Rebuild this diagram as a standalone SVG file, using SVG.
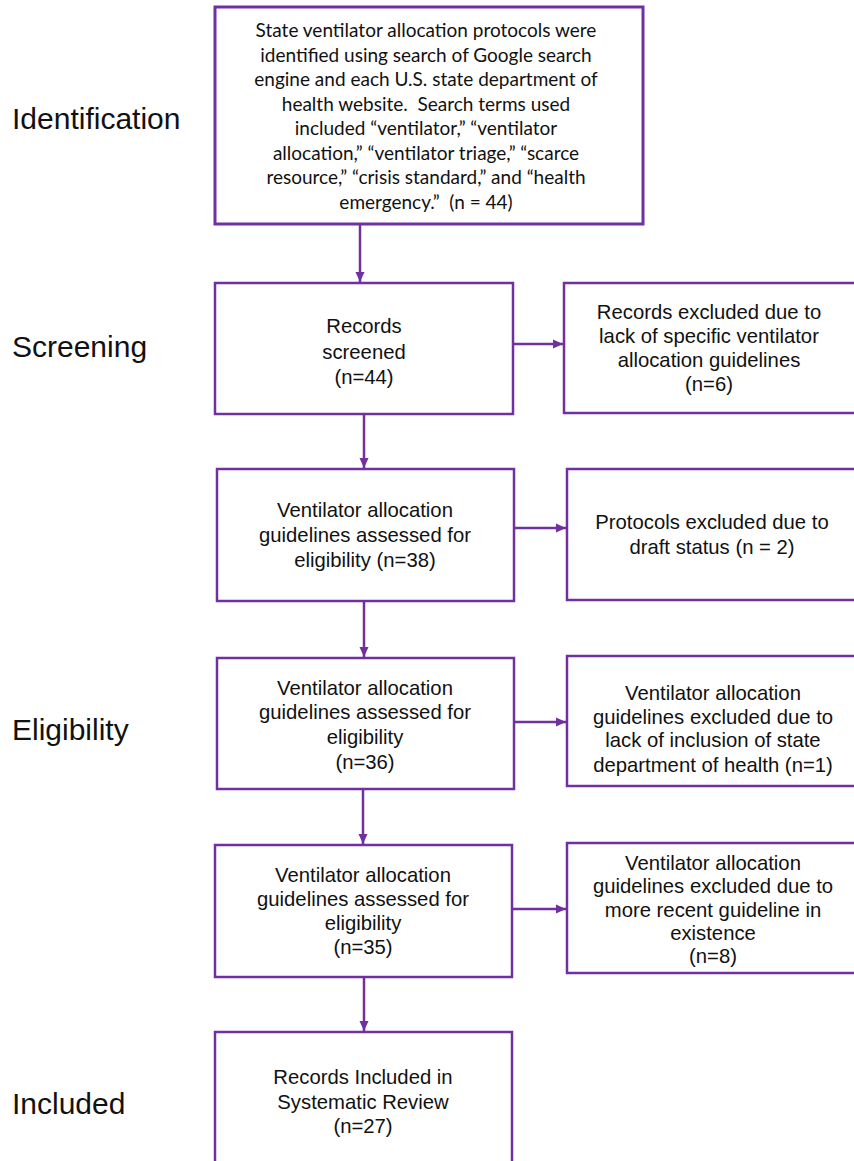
<svg xmlns="http://www.w3.org/2000/svg" width="854" height="1161" viewBox="0 0 854 1161">
<style>
.box{fill:#fff;stroke:#7030A0;stroke-width:2.5}
.top{fill:#fff;stroke:#7030A0;stroke-width:3}
.t{font-family:"Liberation Sans",Arial,sans-serif;font-size:20.3px;fill:#111;text-anchor:middle}
.c{font-family:Lato,"Liberation Sans",sans-serif;font-size:19px;fill:#111;text-anchor:middle;white-space:pre}
.lab{font-family:"Liberation Sans",Arial,sans-serif;font-size:30px;fill:#111}
.con{stroke:#7030A0;stroke-width:2.5;fill:none;marker-end:url(#ah)}
</style>
<defs>
<marker id="ah" markerUnits="userSpaceOnUse" markerWidth="12" markerHeight="12" viewBox="0 0 12 12" refX="10" refY="6" orient="auto">
<path d="M0,1.5 L10,6 L0,10.5 Z" fill="#7030A0"/>
</marker>
</defs>
<rect width="854" height="1161" fill="#fff"/>
<g id="labels">
<text class="lab" x="12" y="129">Identification</text>
<text class="lab" x="12" y="357">Screening</text>
<text class="lab" x="12" y="740">Eligibility</text>
<text class="lab" x="12" y="1114">Included</text>
</g>
<g id="connectors">
<line class="con" x1="360" y1="225" x2="360" y2="282"/>
<line class="con" x1="364" y1="415" x2="364" y2="468"/>
<line class="con" x1="364" y1="602" x2="364" y2="657"/>
<line class="con" x1="363" y1="790" x2="363" y2="844"/>
<line class="con" x1="364" y1="978" x2="364" y2="1031"/>
<line class="con" x1="513" y1="344" x2="563" y2="344"/>
<line class="con" x1="514" y1="528" x2="566" y2="528"/>
<line class="con" x1="514" y1="722" x2="566" y2="722"/>
<line class="con" x1="512" y1="909" x2="566" y2="909"/>
</g>
<g id="n_identification">
<rect class="top" x="215" y="7" width="428" height="217"/>
<text class="c" x="426" y="37">State ventilator allocation protocols were</text>
<text class="c" x="426" y="61.5">identified using search of Google search</text>
<text class="c" x="426" y="86">engine and each U.S. state department of</text>
<text class="c" x="426" y="110.5" xml:space="preserve">health website.  Search terms used</text>
<text class="c" x="426" y="135">included “ventilator,” “ventilator</text>
<text class="c" x="426" y="159.5">allocation,” “ventilator triage,” “scarce</text>
<text class="c" x="426" y="184">resource,” “crisis standard,” and “health</text>
<text class="c" x="426" y="208.5" xml:space="preserve">emergency.”  (n = 44)</text>
</g>
<g id="n_screened">
<rect class="box" x="215" y="283" width="298" height="131"/>
<text class="t" x="364" y="333">Records</text>
<text class="t" x="364" y="359">screened</text>
<text class="t" x="364" y="384">(n=44)</text>
</g>
<g id="n_excl1">
<rect class="box" x="564" y="283" width="300" height="130"/>
<text class="t" x="709" y="319">Records excluded due to</text>
<text class="t" x="709" y="343">lack of specific ventilator</text>
<text class="t" x="709" y="367">allocation guidelines</text>
<text class="t" x="709" y="391">(n=6)</text>
</g>
<g id="n_assess38">
<rect class="box" x="217" y="469" width="297" height="132"/>
<text class="t" x="365" y="517">Ventilator allocation</text>
<text class="t" x="365" y="542">guidelines assessed for</text>
<text class="t" x="365" y="567">eligibility (n=38)</text>
</g>
<g id="n_excl2">
<rect class="box" x="567" y="469" width="300" height="131"/>
<text class="t" x="712" y="529">Protocols excluded due to</text>
<text class="t" x="712" y="554">draft status (n = 2)</text>
</g>
<g id="n_assess36">
<rect class="box" x="217" y="658" width="297" height="131"/>
<text class="t" x="365" y="695">Ventilator allocation</text>
<text class="t" x="365" y="719">guidelines assessed for</text>
<text class="t" x="365" y="744">eligibility</text>
<text class="t" x="365" y="769">(n=36)</text>
</g>
<g id="n_excl3">
<rect class="box" x="567" y="656" width="300" height="130"/>
<text class="t" x="713" y="700">Ventilator allocation</text>
<text class="t" x="713" y="724">guidelines excluded due to</text>
<text class="t" x="713" y="747">lack of inclusion of state</text>
<text class="t" x="713" y="772">department of health (n=1)</text>
</g>
<g id="n_assess35">
<rect class="box" x="215" y="845" width="297" height="132"/>
<text class="t" x="363" y="882">Ventilator allocation</text>
<text class="t" x="363" y="906">guidelines assessed for</text>
<text class="t" x="363" y="930">eligibility</text>
<text class="t" x="363" y="954">(n=35)</text>
</g>
<g id="n_excl4">
<rect class="box" x="567" y="843" width="300" height="130"/>
<text class="t" x="713" y="870">Ventilator allocation</text>
<text class="t" x="713" y="893">guidelines excluded due to</text>
<text class="t" x="713" y="917">more recent guideline in</text>
<text class="t" x="713" y="940">existence</text>
<text class="t" x="713" y="963">(n=8)</text>
</g>
<g id="n_included">
<rect class="box" x="215" y="1032" width="297" height="140"/>
<text class="t" x="363" y="1084">Records Included in</text>
<text class="t" x="363" y="1109">Systematic Review</text>
<text class="t" x="363" y="1133">(n=27)</text>
</g>
</svg>
